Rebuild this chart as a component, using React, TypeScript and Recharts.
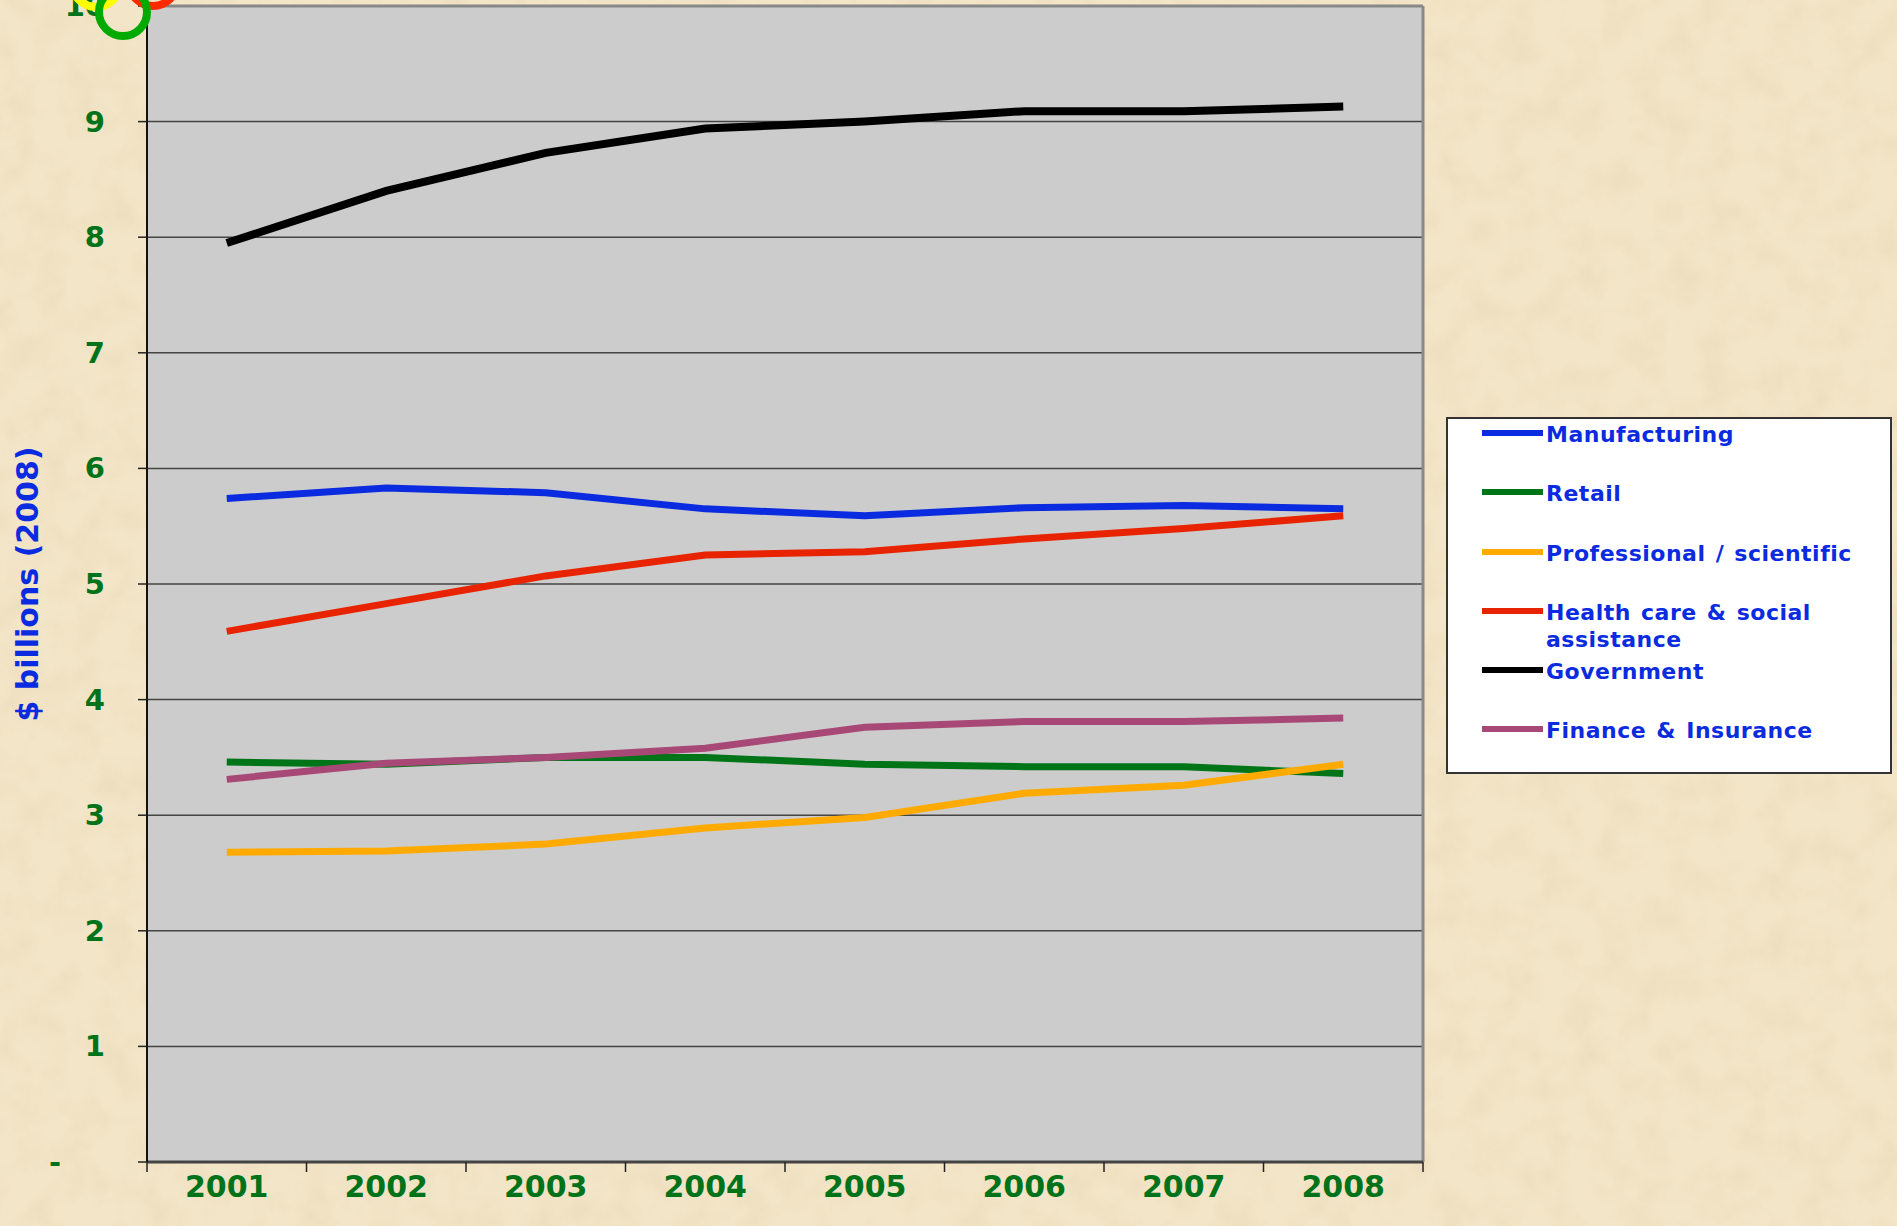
import React from 'react';
import {
  LineChart,
  Line,
  XAxis,
  YAxis,
  CartesianGrid,
  ReferenceLine,
} from 'recharts';

/* ------------------------- data ----------------------------------------- */
const years = ['2001', '2002', '2003', '2004', '2005', '2006', '2007', '2008'];

const manufacturing = [5.74, 5.83, 5.79, 5.65, 5.59, 5.66, 5.68, 5.65];
const retail = [3.46, 3.44, 3.5, 3.5, 3.44, 3.42, 3.42, 3.36];
const professional = [2.68, 2.69, 2.75, 2.89, 2.98, 3.19, 3.26, 3.44];
const healthCare = [4.59, 4.83, 5.07, 5.25, 5.28, 5.39, 5.48, 5.59];
const government = [7.95, 8.4, 8.73, 8.94, 9.0, 9.09, 9.09, 9.13];
const finance = [3.31, 3.45, 3.5, 3.58, 3.76, 3.81, 3.81, 3.84];

const yTicks = [0, 1, 2, 3, 4, 5, 6, 7, 8, 9, 10];

const series = [
  { key: 'manufacturing', name: 'Manufacturing', color: '#0A2BE0', values: manufacturing },
  { key: 'retail', name: 'Retail', color: '#007518', values: retail },
  { key: 'professional', name: 'Professional / scientific', color: '#FFAA00', values: professional },
  { key: 'health', name: 'Health care & social assistance', color: '#E82400', values: healthCare },
  { key: 'government', name: 'Government', color: '#000000', values: government },
  { key: 'finance', name: 'Finance & Insurance', color: '#A84876', values: finance },
];

const rows = years.map((y, i) => {
  const r: Record<string, number | string> = { idx: i + 1, year: y };
  series.forEach((s) => (r[s.key] = s.values[i]));
  return r;
});

const boundaryTicks = years.map((_, i) => i + 0.5).concat([years.length + 0.5]);

/* ------------------------- styles --------------------------------------- */
const FONT = '"DejaVu Sans", Verdana, sans-serif';
const GREEN = '#00731A';
const BLUE = '#0A2BE0';

/* y tick: Excel accounting style dash for zero */
const yTick = (props: any) => {
  const { x, y, payload } = props;
  const isZero = payload.value === 0;
  return (
    <text
      x={isZero ? x - 44 : x}
      y={y}
      dy={10}
      textAnchor="end"
      fill={GREEN}
      fontSize={29}
      fontWeight="bold"
      fontFamily={FONT}
    >
      {isZero ? '-' : payload.value}
    </text>
  );
};

const xTick = (props: any) => {
  const { x, y, payload } = props;
  return (
    <text
      x={x}
      y={y}
      dy={26}
      textAnchor="middle"
      fill={GREEN}
      fontSize={30}
      fontWeight="bold"
      fontFamily={FONT}
    >
      {years[payload.value - 1]}
    </text>
  );
};

/* boundary axis: tick marks only */
const emptyTick = () => <g />;

const yLabel = (props: any) => {
  const vb = props.viewBox;
  const cy = vb.y + vb.height / 2;
  return (
    <text
      transform={`translate(28, ${cy}) rotate(-90)`}
      dy={10}
      textAnchor="middle"
      fill={BLUE}
      fontSize={30}
      fontWeight="bold"
      fontFamily={FONT}
    >
      $ billions (2008)
    </text>
  );
};

/* legend box, Excel-like, outside the chart so it takes no room */
const LegendBox = () => (
  <div
    style={{
      position: 'absolute',
      left: 1446,
      top: 417,
      width: 446,
      height: 357,
      background: '#fff',
      border: '2px solid #333',
      boxSizing: 'border-box',
      paddingTop: 2,
      fontFamily: FONT,
    }}
  >
    {series.map((s) => (
      <div
        key={s.key}
        style={{ display: 'flex', alignItems: 'flex-start', height: 59.3 }}
      >
        <span
          style={{
            display: 'inline-block',
            width: 61,
            height: 6,
            marginLeft: 34,
            marginTop: 9,
            background: s.color,
            flex: 'none',
          }}
        />
        <span
          style={{
            color: BLUE,
            fontWeight: 'bold',
            fontSize: 22,
            lineHeight: '27px',
            marginLeft: 3,
            width: s.key === 'health' ? 280 : 345,
            letterSpacing: 0.5,
            wordSpacing: 2,
          }}
        >
          {s.name}
        </span>
      </div>
    ))}
  </div>
);

/* ------------------------- component ------------------------------------ */
export default function App() {
  return (
    <div
      style={{
        position: 'fixed',
        left: 0,
        top: 0,
        width: 1897,
        height: 1226,
        overflow: 'hidden',
        background: '#F3E5C7',
      }}
    >
      {/* parchment texture */}
      <svg
        width={1897}
        height={1226}
        style={{ position: 'absolute', left: 0, top: 0 }}
      >
        <filter id="parch">
          <feTurbulence
            type="fractalNoise"
            baseFrequency="0.03"
            numOctaves={5}
            seed={7}
          />
          <feColorMatrix
            type="matrix"
            values="0 0 0 0 0.80  0 0 0 0 0.70  0 0 0 0 0.48  0 0 0 1.1 -0.42"
          />
        </filter>
        <rect width={1897} height={1226} filter="url(#parch)" />
      </svg>

      <div style={{ position: 'absolute', left: 0, top: 0 }}>
        <LineChart
          width={1897}
          height={1226}
          data={rows}
          margin={{ top: 6, right: 474, bottom: 0, left: 0 }}
        >
          <CartesianGrid
            vertical={false}
            fill="#CCCCCC"
            stroke="#444"
            strokeWidth={1.5}
          />
          {/* default axis (id 0, sits next to the plot): boundary tick marks, Excel style */}
          <XAxis
            dataKey="idx"
            type="number"
            domain={[0.5, 8.5]}
            ticks={boundaryTicks}
            tick={emptyTick}
            tickLine={{ stroke: '#222', strokeWidth: 1.5 }}
            tickSize={10}
            axisLine={{ stroke: '#444', strokeWidth: 3 }}
            height={1}
          />
          {/* year labels at category centres */}
          <XAxis
            xAxisId="labels"
            dataKey="idx"
            type="number"
            domain={[0.5, 8.5]}
            ticks={years.map((_, i) => i + 1)}
            tick={xTick}
            tickLine={false}
            axisLine={false}
            height={63}
            interval={0}
          />
          <YAxis
            type="number"
            domain={[0, 10]}
            ticks={yTicks}
            tick={yTick}
            width={147}
            tickSize={9}
            tickMargin={33}
            tickLine={{ stroke: '#222', strokeWidth: 1.5 }}
            axisLine={{ stroke: '#111', strokeWidth: 2 }}
            interval={0}
            label={{ content: yLabel }}
          />
          <ReferenceLine y={10} stroke="#888" strokeWidth={3} />
          <ReferenceLine x={8.5} stroke="#888" strokeWidth={3} />

          {series.map((s) => (
            <Line
              key={s.key}
              dataKey={s.key}
              name={s.name}
              stroke={s.color}
              strokeWidth={s.key === 'government' ? 8 : 7}
              strokeLinecap="butt"
              type="linear"
              dot={false}
              activeDot={false}
              isAnimationActive={false}
            />
          ))}
        </LineChart>
      </div>

      <LegendBox />

      {/* decorative rings at top-left */}
      <svg
        width={220}
        height={70}
        style={{ position: 'absolute', left: 0, top: 0, pointerEvents: 'none' }}
      >
        <circle cx={96} cy={-17} r={24} fill="none" stroke="#FFFF00" strokeWidth={8} />
        <circle cx={153} cy={-18} r={24} fill="none" stroke="#FF2A00" strokeWidth={8} />
        <circle cx={123} cy={12} r={24} fill="none" stroke="#00AA00" strokeWidth={8} />
      </svg>
    </div>
  );
}
